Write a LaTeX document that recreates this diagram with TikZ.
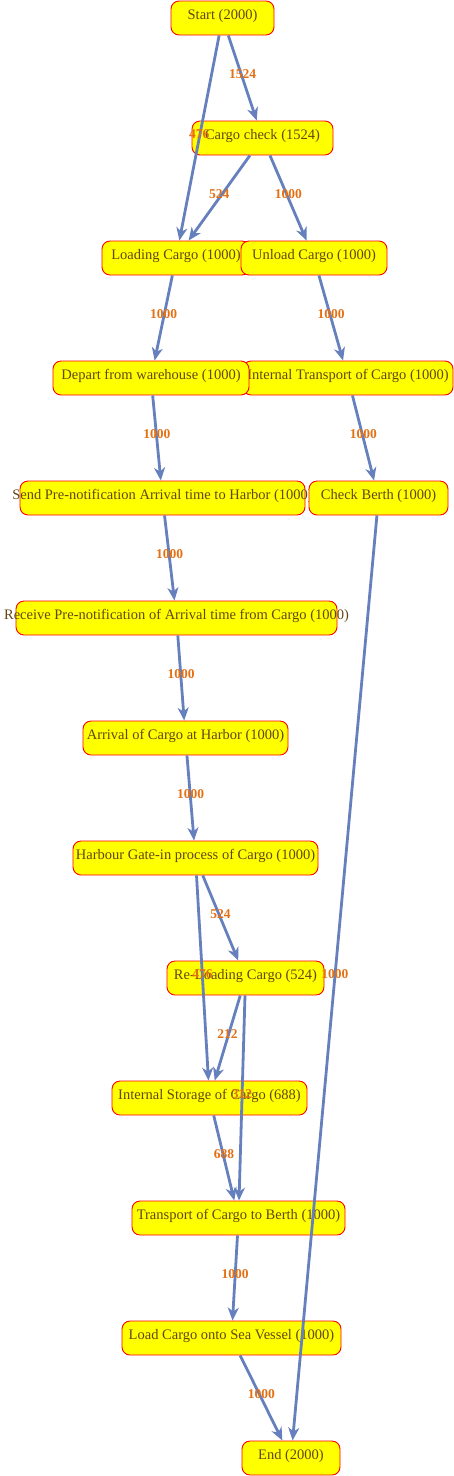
\documentclass[tikz,border=0pt]{standalone}
\usepackage{fontspec}
\setmainfont{Liberation Serif}
\usetikzlibrary{arrows.meta}
\definecolor{edgec}{RGB}{102,128,190}
\definecolor{txtc}{RGB}{100,70,20}
\definecolor{lblc}{RGB}{228,112,20}
\definecolor{boxfill}{RGB}{255,255,0}
\tikzset{
 boxn/.style={draw=red, fill=boxfill, rounded corners=8pt, minimum height=34pt, inner sep=0pt, line width=0.9pt},
 boxt/.style={text=txtc, font=\fontsize{14.5}{16}\selectfont, inner sep=0pt},
 edge/.style={draw=edgec, line width=2.8pt, -{Stealth[length=13pt,width=11pt,inset=4pt]}},
 lbl/.style={text=lblc, font=\bfseries\fontsize{13.5}{15}\selectfont, anchor=base, inner sep=0pt}
}
\newcommand\bx[5]{\node[boxn, minimum width=#4] (#1) at (#2,#3) {}; \node[boxt] (#1t) at (#2,#3-2) {#5};}
\begin{document}
\begin{tikzpicture}[x=1pt,y=-1pt]
\useasboundingbox (0,0) rectangle (454,1476);
\bx{st}{222.5}{18}{103pt}{Start (2000)}
\bx{cc}{262.5}{138}{141pt}{Cargo check (1524)}
\bx{lc}{176}{258}{148pt}{Loading Cargo (1000)}
\bx{uc}{314}{258}{146pt}{Unload Cargo (1000)}
\bx{it}{348}{378}{210pt}{Internal Transport of Cargo (1000)}
\bx{dw}{151}{378}{196pt}{Depart from warehouse (1000)}
\bx{sp}{162.5}{498}{285pt}{Send Pre-notification Arrival time to Harbor (1000)}
\bx{cb}{378.5}{498}{139pt}{Check Berth (1000)}
\bx{rp}{176.5}{618}{321pt}{Receive Pre-notification of Arrival time from Cargo (1000)}
\bx{ah}{185.5}{738}{205pt}{Arrival of Cargo at Harbor (1000)}
\bx{hg}{195.5}{858}{245pt}{Harbour Gate-in process of Cargo (1000)}
\bx{rl}{245.5}{978}{157pt}{Re-Loading Cargo (524)}
\bx{is}{209.5}{1098}{195pt}{Internal Storage of Cargo (688)}
\bx{tb}{238.5}{1218}{213pt}{Transport of Cargo to Berth (1000)}
\bx{lv}{231.5}{1338}{219pt}{Load Cargo onto Sea Vessel (1000)}
\bx{en}{291}{1458}{98pt}{End (2000)}
\draw[edge] (st) -- node[lbl]{1524} (cc);
\draw[edge] (st) -- node[lbl]{476} (lc);
\draw[edge] (cc) -- node[lbl]{524} (lc);
\draw[edge] (cc) -- node[lbl]{1000} (uc);
\draw[edge] (lc) -- node[lbl]{1000} (dw);
\draw[edge] (uc) -- node[lbl]{1000} (it);
\draw[edge] (dw) -- node[lbl]{1000} (sp);
\draw[edge] (it) -- node[lbl]{1000} (cb);
\draw[edge] (sp) -- node[lbl]{1000} (rp);
\draw[edge] (rp) -- node[lbl]{1000} (ah);
\draw[edge] (ah) -- node[lbl]{1000} (hg);
\draw[edge] (hg) -- node[lbl]{524} (rl);
\draw[edge] (hg) -- node[lbl]{476} (is);
\draw[edge] (rl) -- node[lbl]{212} (is);
\draw[edge] (rl) -- node[lbl]{312} (tb);
\draw[edge] (is) -- node[lbl]{688} (tb);
\draw[edge] (cb) -- node[lbl]{1000} (en);
\draw[edge] (tb) -- node[lbl]{1000} (lv);
\draw[edge] (lv) -- node[lbl]{1000} (en);
\end{tikzpicture}
\end{document}
